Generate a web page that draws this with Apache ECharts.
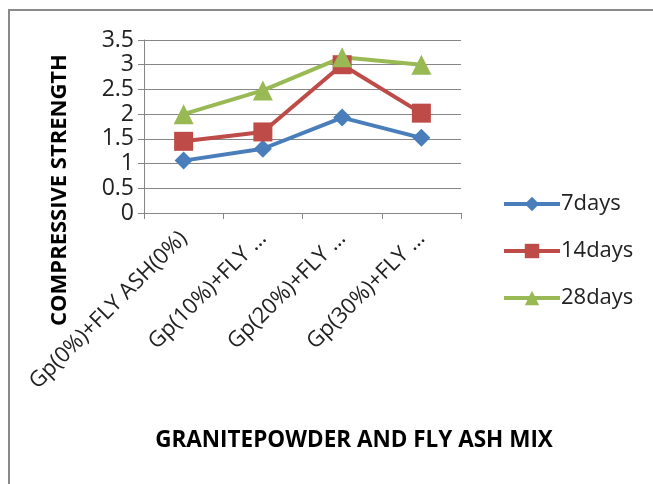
<!DOCTYPE html>
<html>
<head>
<meta charset="utf-8">
<script src="https://cdn.jsdelivr.net/npm/echarts@6/dist/echarts.min.js"></script>
<style>
  html, body { margin: 0; padding: 0; background: #fff; }
  #chart { width: 653px; height: 484px; }
</style>
</head>
<body>
<div id="chart"></div>
<script>
// Compressive strength of granite powder / fly ash mixes by curing age
const categories = ['Gp(0%)+FLY ASH(0%)', 'Gp(10%)+FLY …', 'Gp(20%)+FLY …', 'Gp(30%)+FLY …'];
const days7 = [1.06, 1.30, 1.93, 1.52];
const days14 = [1.45, 1.64, 3.00, 2.02];
const days28 = [2.00, 2.48, 3.15, 3.00];
const yTicks = ['0', '0.5', '1', '1.5', '2', '2.5', '3', '3.5'];
const xTitle = 'GRANITEPOWDER AND FLY ASH MIX';
const yTitle = 'COMPRESSIVE STRENGTH';

const FONT = '"Open Sans", "Liberation Sans", sans-serif';
const GRAY = '#868686';

const chart = echarts.init(document.getElementById('chart'), null, { renderer: 'canvas' });

function lineSeries(name, data, color, symbol, size) {
  return {
    name, type: 'line', data,
    symbol, symbolSize: size, showSymbol: true,
    lineStyle: { color, width: 4 },
    itemStyle: { color, borderWidth: 0 },
    emphasis: { disabled: true }
  };
}

chart.setOption({
  animation: false,
  graphic: [
    {
      type: 'polyline',
      shape: { points: [[9, 484], [9, 10], [653, 10]] },
      style: { stroke: '#8a8a8a', lineWidth: 2, fill: null }
    },
    {
      type: 'text',
      x: 60, y: 190, rotation: Math.PI / 2,
      style: {
        text: yTitle, fontFamily: FONT, fontSize: 22, fontWeight: 'bold',
        fill: '#000', align: 'center', verticalAlign: 'middle'
      }
    },
    {
      type: 'text',
      x: 354, y: 441,
      style: {
        text: xTitle, fontFamily: FONT, fontSize: 22.5, fontWeight: 'bold',
        fill: '#000', align: 'center', verticalAlign: 'middle'
      }
    }
  ],
  grid: { left: 144, right: 192, top: 40, bottom: 271, containLabel: false },
  legend: {
    orient: 'vertical',
    left: 497, top: 188,
    itemWidth: 56, itemHeight: 18, itemGap: 25,
    lineStyle: { width: 4 },
    textStyle: { fontFamily: FONT, fontSize: 22, color: '#222', padding: [0, 0, 0, -4] },
    data: ['7days', '14days', '28days']
  },
  xAxis: {
    type: 'category',
    data: categories,
    boundaryGap: true,
    axisLine: { lineStyle: { color: GRAY, width: 1 } },
    axisTick: { show: true, length: 6, lineStyle: { color: GRAY } },
    axisLabel: { rotate: 45, interval: 0, margin: 22, fontFamily: FONT, fontSize: 22, color: '#222' }
  },
  yAxis: {
    type: 'value',
    min: 0, max: 3.5, interval: 0.5,
    axisLine: { show: true, lineStyle: { color: GRAY, width: 1 } },
    axisTick: { show: true, length: 6, lineStyle: { color: GRAY } },
    splitLine: { lineStyle: { color: GRAY, width: 1 } },
    axisLabel: {
      margin: 10, fontFamily: FONT, fontSize: 23, color: '#222',
      formatter: (v) => yTicks[Math.round(v / 0.5)]
    }
  },
  series: [
    lineSeries('7days', days7, '#4A7EBB', 'diamond', 18),
    lineSeries('14days', days14, '#BE4B48', 'rect', 19),
    lineSeries('28days', days28, '#98B954', 'triangle', 20)
  ]
});
</script>
</body>
</html>
